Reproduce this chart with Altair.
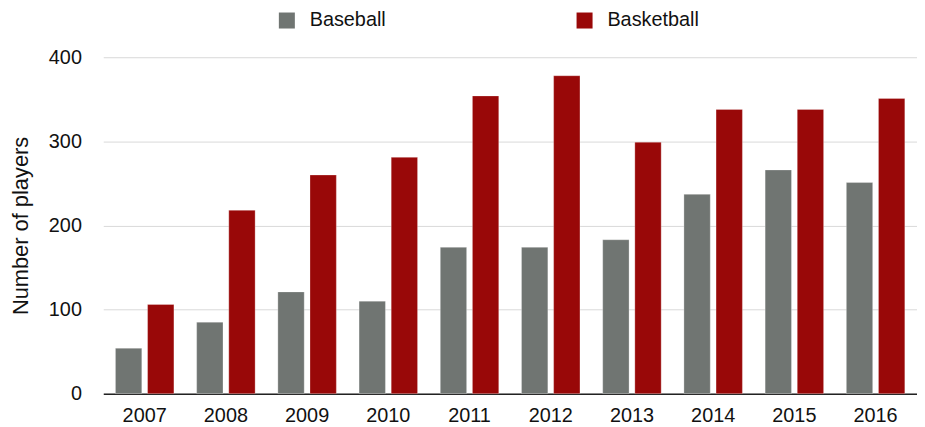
import altair as alt
import pandas as pd

years = ["2007", "2008", "2009", "2010", "2011", "2012", "2013", "2014", "2015", "2016"]
baseball = [54, 85, 121, 110, 174, 174, 183, 237, 266, 251]
basketball = [106, 218, 260, 281, 354, 378, 299, 338, 338, 351]
sports = ["Baseball", "Basketball"]
colors = ["#707572", "#990808"]

rows = []
for y, b, k in zip(years, baseball, basketball):
    rows.append({"year": y, "sport": sports[0], "players": b})
    rows.append({"year": y, "sport": sports[1], "players": k})
df = pd.DataFrame(rows)

FONT = "Liberation Sans"

chart = alt.Chart(df).mark_bar(stroke="#ffffff", strokeOpacity=0.35, strokeWidth=0.8).encode(
    x=alt.X("year:N", sort=years, title=None,
            scale=alt.Scale(paddingInner=0.28, paddingOuter=0.15),
            axis=alt.Axis(labelAngle=0, ticks=False, domainColor="#222222", domainWidth=1.5,
                          labelFontSize=20, labelColor="#111111", labelFont=FONT, labelPadding=12)),
    xOffset=alt.XOffset("sport:N", sort=sports, scale=alt.Scale(paddingInner=0.18)),
    y=alt.Y("players:Q", title="Number of players",
            scale=alt.Scale(domain=[0, 400]),
            axis=alt.Axis(values=[0, 100, 200, 300, 400], domain=False, ticks=False,
                          gridColor="#d9d9d9", gridWidth=1,
                          labelFontSize=20, labelColor="#111111", labelFont=FONT, labelPadding=22,
                          titleFontSize=22, titleFontWeight="normal", titleColor="#111111",
                          titleFont=FONT, titlePadding=16)),
    color=alt.Color("sport:N", sort=sports,
                    scale=alt.Scale(domain=sports, range=colors),
                    legend=alt.Legend(title=None, orient="none", direction="horizontal",
                                      legendX=175, legendY=-47, symbolType="square",
                                      symbolSize=260, symbolStrokeWidth=0,
                                      labelFontSize=20, labelFont=FONT, labelColor="#111111",
                                      labelOffset=13, columnPadding=190)),
).properties(
    width=820, height=339,
    autosize=alt.AutoSizeParams(type="none"),
    padding={"left": 96, "top": 48, "right": 0, "bottom": 32},
).configure_view(stroke=None).configure_axisY(grid=True).configure_axisX(grid=False)

chart.save("out.html", embed_options={"renderer": "svg", "actions": False})
